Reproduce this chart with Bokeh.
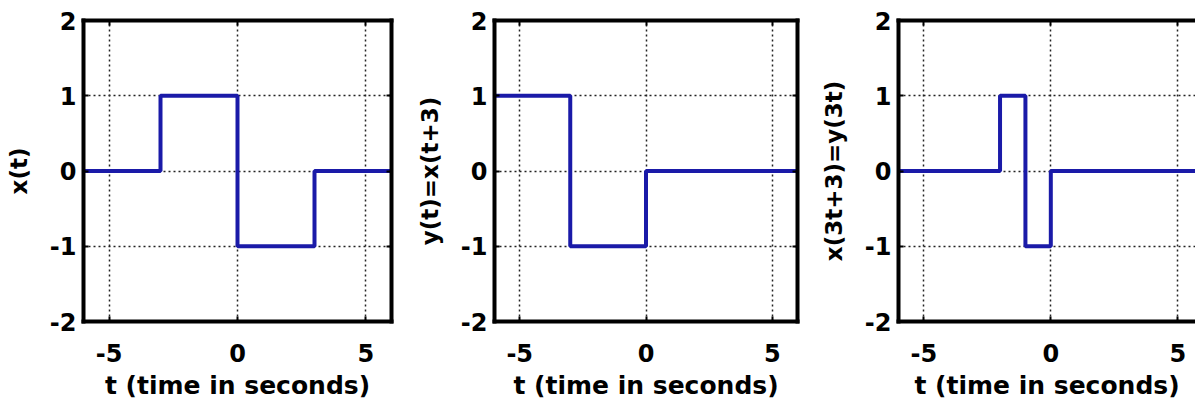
from bokeh.plotting import figure
from bokeh.layouts import row
from bokeh.models import LinearAxis, FixedTicker, Range1d
from bokeh.embed import file_html
from bokeh.resources import INLINE

# ---- data ----
t_ticks = [-5, 0, 5]
y_ticks = [-2, -1, 0, 1, 2]

t1 = [-6, -3, -3, 0, 0, 3, 3, 6]
x1 = [0, 0, 1, 1, -1, -1, 0, 0]

t2 = [-6, -3, -3, 0, 0, 6]
y2 = [1, 1, -1, -1, 0, 0]

t3 = [-6, -2, -2, -1, -1, 0, 0, 6]
y3 = [0, 0, 1, 1, -1, -1, 0, 0]

ylabels = ["x(t)", "y(t)=x(t+3)", "x(3t+3)=y(3t)"]
xlabel = "t (time in seconds)"

FONT = "DejaVu Sans"
BLUE = "#1a1aa8"


def make_panel(ts, vs, ylab, width, bl, br, bt, bb, xr, right_axis=True):
    p = figure(width=width, height=404, output_backend="svg", toolbar_location=None,
               x_range=Range1d(*xr), y_range=Range1d(-2, 2),
               min_border_left=bl, min_border_right=br,
               min_border_top=bt, min_border_bottom=bb)
    p.outline_line_color = None
    p.background_fill_color = "white"
    p.border_fill_color = "white"

    p.line(ts, vs, line_color=BLUE, line_width=4)

    # main axes
    for ax, ticks in ((p.xaxis[0], t_ticks), (p.yaxis[0], y_ticks)):
        ax.ticker = FixedTicker(ticks=ticks)
        ax.major_label_overrides = {v: str(v) for v in ticks}
        ax.axis_line_width = 4
        ax.axis_line_color = "black"
        ax.axis_line_cap = "square"
        ax.major_tick_in = 5
        ax.major_tick_out = 0
        ax.major_tick_line_width = 2
        ax.minor_tick_line_color = None
        ax.major_label_text_font = FONT
        ax.major_label_text_font_style = "bold"
        ax.major_label_text_font_size = "24px"
        ax.major_label_text_color = "black"
        ax.axis_label_text_font = FONT
        ax.axis_label_text_font_style = "bold"
        ax.axis_label_text_color = "black"

    p.xaxis[0].axis_label = xlabel
    p.xaxis[0].axis_label_text_font_size = "25px"
    p.xaxis[0].major_label_standoff = 22
    p.xaxis[0].axis_label_standoff = 6

    p.yaxis[0].axis_label = ylab
    p.yaxis[0].axis_label_text_font_size = "23px"
    p.yaxis[0].major_label_standoff = 7
    p.yaxis[0].axis_label_standoff = 15

    # box axes (top / right) for the frame and inward ticks
    top = LinearAxis(ticker=FixedTicker(ticks=t_ticks))
    extras = [(top, "above")]
    if right_axis:
        rgt = LinearAxis(ticker=FixedTicker(ticks=y_ticks))
        extras.append((rgt, "right"))
    for ax, side in extras:
        ax.axis_line_width = 4
        ax.axis_line_color = "black"
        ax.axis_line_cap = "square"
        ax.major_tick_in = 5
        ax.major_tick_out = 0
        ax.major_tick_line_width = 2
        ax.minor_tick_line_color = None
        ax.major_label_text_font_size = "0px"
        ax.major_label_standoff = 0
        ax.major_label_text_alpha = 0
        p.add_layout(ax, side)

    for g, ticks in ((p.xgrid[0], t_ticks), (p.ygrid[0], y_ticks)):
        g.ticker = FixedTicker(ticks=ticks)
        g.grid_line_color = "#222222"
        g.grid_line_dash = "2 3"
        g.grid_line_width = 1.5
    return p


p1 = make_panel(t1, x1, ylabels[0], 400, 83, 9, 18, 81, (-6, 6))
p2 = make_panel(t2, y2, ylabels[1], 400, 94, 3, 20, 83, (-6, 6))
p3 = make_panel(t3, y3, ylabels[2], 395, 98, 0, 20, 83, (-6, 5.7), right_axis=False)

layout = row(p1, p2, p3, spacing=0)

open("out.html", "w").write(file_html(layout, INLINE))
